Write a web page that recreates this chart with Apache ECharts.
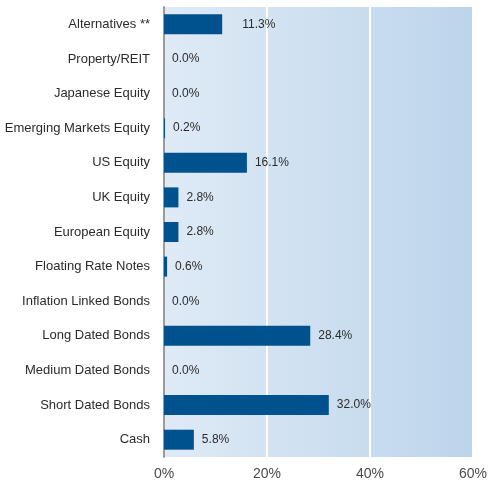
<!DOCTYPE html>
<html>
<head>
<meta charset="utf-8">
<script src="https://cdn.jsdelivr.net/npm/echarts@6/dist/echarts.min.js"></script>
<style>
  html, body { margin: 0; padding: 0; background: #fff; }
  #chart { width: 488px; height: 480px; }
</style>
</head>
<body>
<div id="chart"></div>
<script>
// categories top to bottom
const categories = [
  'Alternatives **', 'Property/REIT', 'Japanese Equity', 'Emerging Markets Equity',
  'US Equity', 'UK Equity', 'European Equity', 'Floating Rate Notes',
  'Inflation Linked Bonds', 'Long Dated Bonds', 'Medium Dated Bonds',
  'Short Dated Bonds', 'Cash'
];
const weights = [11.3, 0.0, 0.0, 0.2, 16.1, 2.8, 2.8, 0.6, 0.0, 28.4, 0.0, 32.0, 5.8];
const xTicks = [0, 20, 40, 60];

const chart = echarts.init(document.getElementById('chart'));

// y category axis runs bottom-up, so reverse
const cats = categories.slice().reverse();
const vals = weights.slice().reverse();

chart.setOption({
  animation: false,
  textStyle: { fontFamily: 'Liberation Sans, Arial, sans-serif' },
  grid: {
    left: 164, right: 15, top: 7, bottom: 23,
    outerBoundsMode: 'none',
    show: true,
    borderWidth: 0,
    backgroundColor: new echarts.graphic.LinearGradient(0, 0, 1, 0, [
      { offset: 0, color: '#dfeaf6' },
      { offset: 1, color: '#bcd5eb' }
    ])
  },
  xAxis: {
    type: 'value',
    min: xTicks[0],
    max: xTicks[xTicks.length - 1],
    interval: 20,
    axisLine: { show: false },
    axisTick: { show: false },
    axisLabel: { color: '#4a4a4a', fontSize: 14, margin: 10, formatter: (v) => v + '%' },
    splitLine: { lineStyle: { color: '#ffffff', width: 2 } }
  },
  yAxis: {
    type: 'category',
    data: cats,
    axisLine: { show: true, lineStyle: { color: '#9a9a9a', width: 2 } },
    axisTick: { show: false },
    axisLabel: { color: '#2b2b2b', fontSize: 13, margin: 14 }
  },
  series: [{
    type: 'bar',
    barWidth: 20,
    data: vals.map((v, i) => ({
      value: v,
      label: { distance: cats[i] === 'Alternatives **' ? 20 : 8 }
    })),
    itemStyle: { color: '#00528f' },
    label: {
      show: true,
      position: 'right',
      color: '#2b2b2b',
      fontSize: 12,
      formatter: (p) => p.value.toFixed(1) + '%'
    }
  }]
});
</script>
</body>
</html>
